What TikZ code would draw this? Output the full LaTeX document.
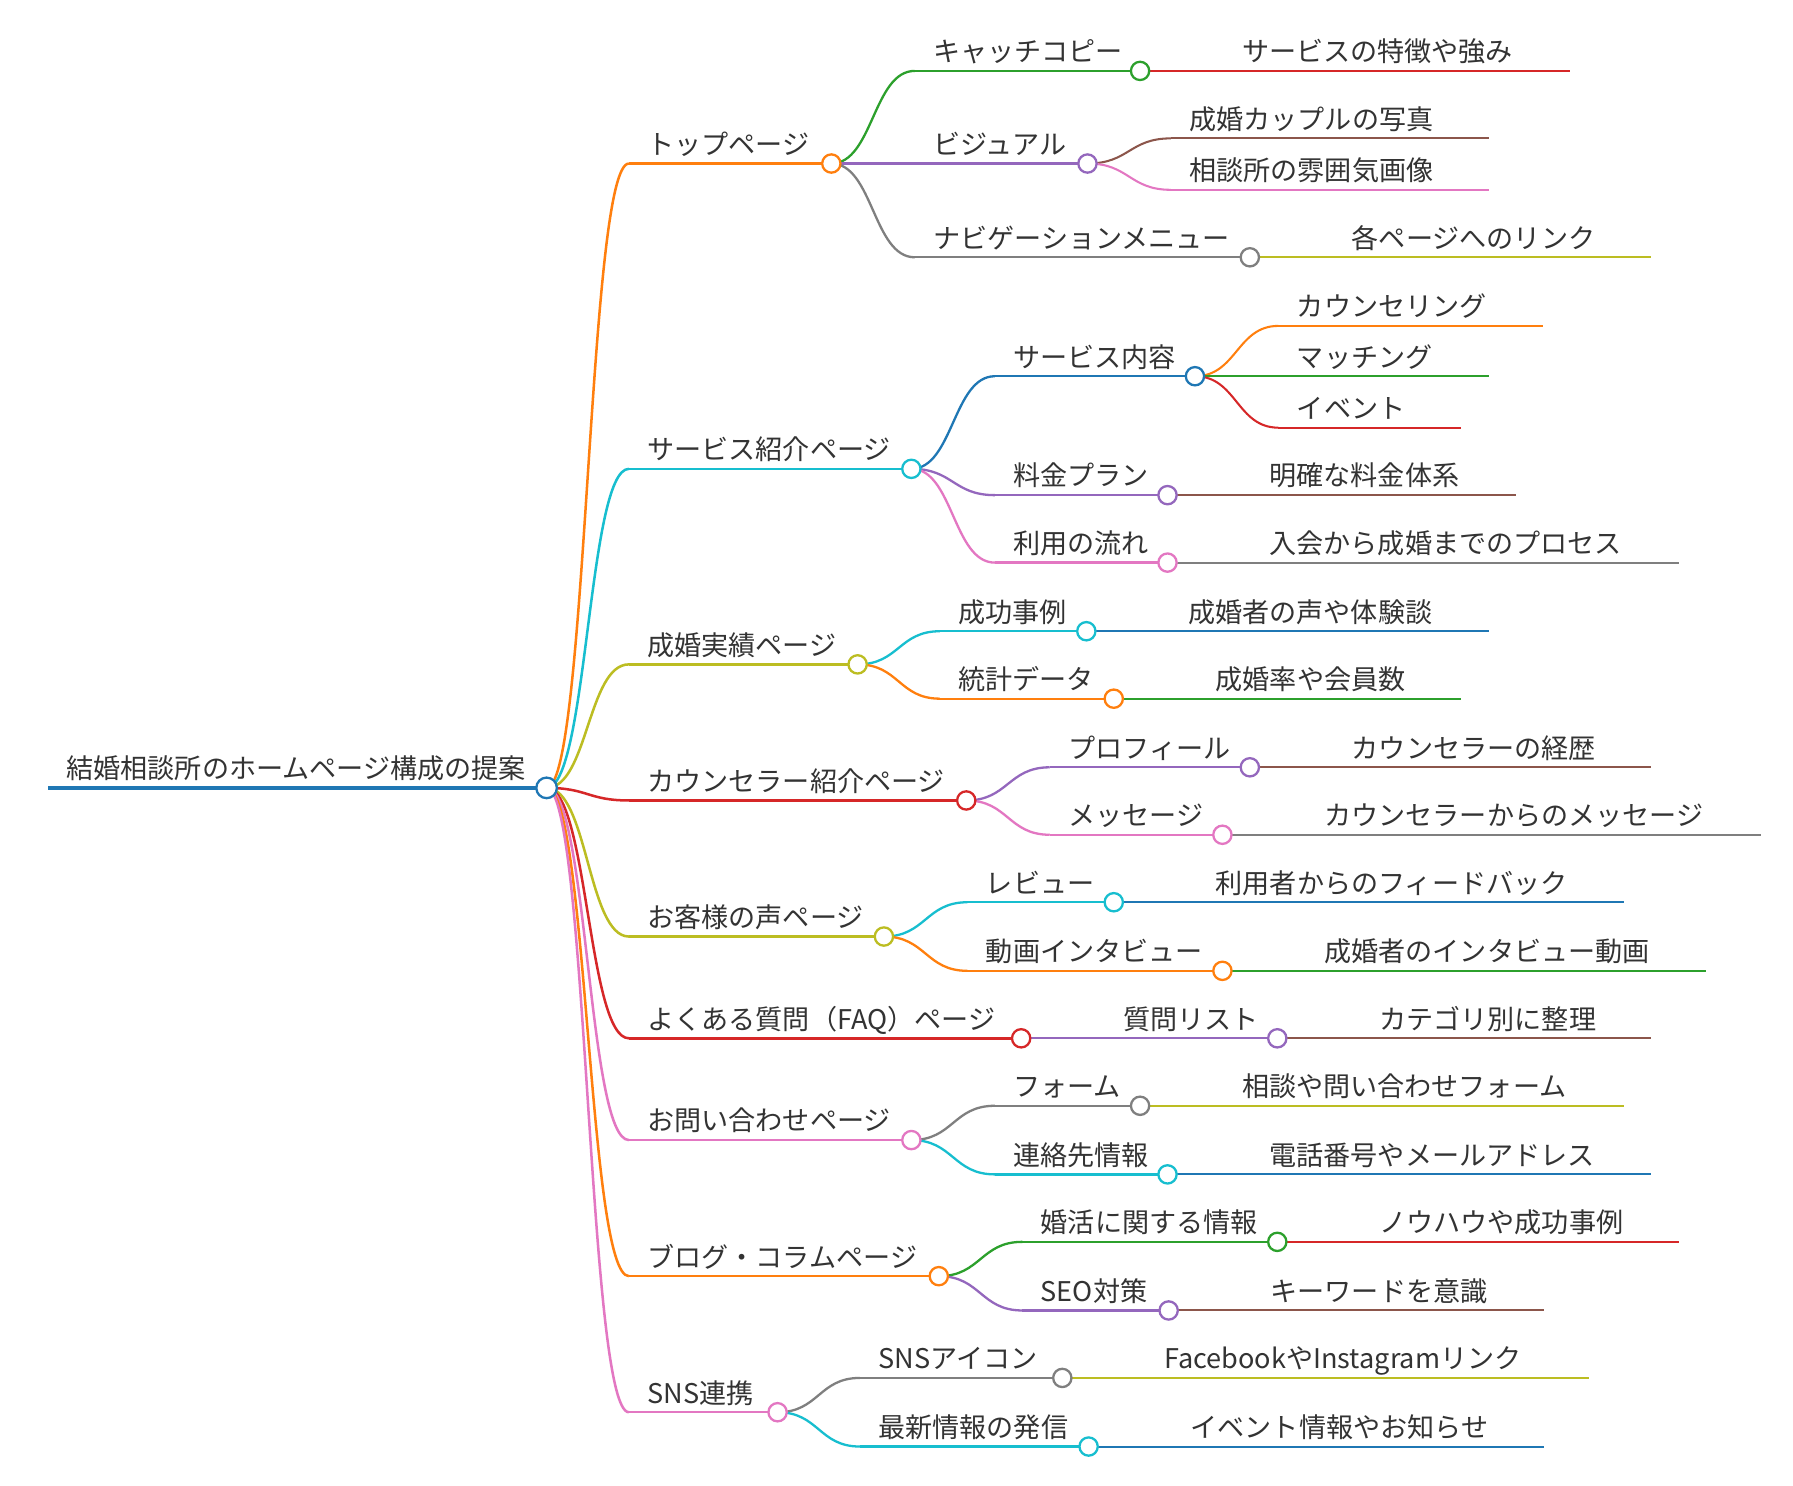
\documentclass[tikz,border=0pt]{standalone}
\usepackage{fontspec}
\setmainfont{Noto Sans CJK JP}
\usetikzlibrary{calc}
\definecolor{cblue}{HTML}{1F77B4}
\definecolor{corange}{HTML}{FF7F0E}
\definecolor{cgreen}{HTML}{2CA02C}
\definecolor{cred}{HTML}{D62728}
\definecolor{cpurple}{HTML}{9467BD}
\definecolor{cbrown}{HTML}{8C564B}
\definecolor{cpink}{HTML}{E377C2}
\definecolor{cgray}{HTML}{7F7F7F}
\definecolor{colive}{HTML}{BCBD22}
\definecolor{ccyan}{HTML}{17BECF}
\definecolor{txtgray}{HTML}{333333}
\tikzset{
  lbl/.style={anchor=base west, inner sep=0pt, text=txtgray, font=\fontsize{23.7}{28}\selectfont},
  dot/.style={circle, fill=white, line width=2pt, inner sep=0pt, minimum size=16pt},
}
% node: name, xs, xe, y, color, width, text
\newcommand{\mmn}[7]{%
  \coordinate (#1-s) at (#2,#4);
  \coordinate (#1-e) at (#3,#4);
  \draw[#5, line width=#6pt] (#1-s) -- (#1-e);
  \node[lbl] (#1-t) at ($(#1-s)+(16,-8)$) {#7};
}
% link: parent, child, color, width
\newcommand{\mml}[4]{%
  \path ($(#1-e)!0.5!(#2-s)$) coordinate (#2-m);
  \draw[#3, line width=#4pt] (#1-e) .. controls (#2-m |- #1-e) and (#2-m |- #2-s) .. (#2-s);
}
% circle: name, color
\newcommand{\mmc}[2]{\node[dot, draw=#2] (#1-c) at (#1-e) {};}
\begin{document}
\begin{tikzpicture}[x=1pt, y=-1pt]
\fill[white] (0,0) rectangle (1568,1299);
\useasboundingbox (0,0) rectangle (1568,1299);
% root
\mmn{root}{42}{478}{689}{cblue}{3.2}{結婚相談所のホームページ構成の提案}
% level 1
\mmn{top}{550}{727}{143}{corange}{2.2}{トップページ}
\mmn{svc}{550}{797}{410}{ccyan}{2.2}{サービス紹介ページ}
\mmn{jis}{550}{750}{581}{colive}{2.2}{成婚実績ページ}
\mmn{cns}{550}{845}{700}{cred}{2.2}{カウンセラー紹介ページ}
\mmn{voc}{550}{773}{819}{colive}{2.2}{お客様の声ページ}
\mmn{faq}{550}{893}{908}{cred}{2.2}{よくある質問（FAQ）ページ}
\mmn{inq}{550}{797}{997}{cpink}{2.2}{お問い合わせページ}
\mmn{blg}{550}{821}{1116}{corange}{2.2}{ブログ・コラムページ}
\mmn{sns}{550}{680}{1235}{cpink}{2.2}{SNS連携}
\foreach \c/\k in {top/corange,svc/ccyan,jis/colive,cns/cred,voc/colive,faq/cred,inq/cpink,blg/corange,sns/cpink}{\mml{root}{\c}{\k}{2.2}}
% level 2
\mmn{catch}{800}{997}{62}{cgreen}{2}{キャッチコピー}
\mmn{vis}{800}{951}{143}{cpurple}{2}{ビジュアル}
\mmn{nav}{800}{1093}{225}{cgray}{2}{ナビゲーションメニュー}
\mml{top}{catch}{cgreen}{2}\mml{top}{vis}{cpurple}{2}\mml{top}{nav}{cgray}{2}
\mmn{svcc}{870}{1045}{329}{cblue}{2}{サービス内容}
\mmn{price}{870}{1021}{433}{cpurple}{2}{料金プラン}
\mmn{flow}{870}{1021}{492}{cpink}{2}{利用の流れ}
\mml{svc}{svcc}{cblue}{2}\mml{svc}{price}{cpurple}{2}\mml{svc}{flow}{cpink}{2}
\mmn{case}{822}{950}{552}{ccyan}{2}{成功事例}
\mmn{stat}{822}{974}{611}{corange}{2}{統計データ}
\mml{jis}{case}{ccyan}{2}\mml{jis}{stat}{corange}{2}
\mmn{prof}{918}{1093}{671}{cpurple}{2}{プロフィール}
\mmn{msg}{918}{1069}{730}{cpink}{2}{メッセージ}
\mml{cns}{prof}{cpurple}{2}\mml{cns}{msg}{cpink}{2}
\mmn{rev}{846}{974}{789}{ccyan}{2}{レビュー}
\mmn{vid}{846}{1069}{849}{corange}{2}{動画インタビュー}
\mml{voc}{rev}{ccyan}{2}\mml{voc}{vid}{corange}{2}
\mmn{qlist}{966}{1117}{908}{cpurple}{2}{質問リスト}
\mml{faq}{qlist}{cpurple}{2}
\mmn{form}{870}{997}{967}{cgray}{2}{フォーム}
\mmn{cont}{870}{1021}{1027}{ccyan}{2}{連絡先情報}
\mml{inq}{form}{cgray}{2}\mml{inq}{cont}{ccyan}{2}
\mmn{konk}{894}{1117}{1086}{cgreen}{2}{婚活に関する情報}
\mmn{seo}{894}{1022}{1146}{cpurple}{2}{SEO対策}
\mml{blg}{konk}{cgreen}{2}\mml{blg}{seo}{cpurple}{2}
\mmn{icon}{752}{929}{1205}{cgray}{2}{SNSアイコン}
\mmn{news}{752}{952}{1265}{ccyan}{2}{最新情報の発信}
\mml{sns}{icon}{cgray}{2}\mml{sns}{news}{ccyan}{2}
% level 3 (leaves)
\mmn{strong}{1070}{1373}{62}{cred}{1.8}{サービスの特徴や強み}
\mml{catch}{strong}{cred}{1.8}
\mmn{photo}{1024}{1302}{121}{cbrown}{1.8}{成婚カップルの写真}
\mmn{atmos}{1024}{1302}{166}{cpink}{1.8}{相談所の雰囲気画像}
\mml{vis}{photo}{cbrown}{1.8}\mml{vis}{atmos}{cpink}{1.8}
\mmn{links}{1166}{1444}{225}{colive}{1.8}{各ページへのリンク}
\mml{nav}{links}{colive}{1.8}
\mmn{couns}{1118}{1349}{285}{corange}{1.8}{カウンセリング}
\mmn{match}{1118}{1302}{329}{cgreen}{1.8}{マッチング}
\mmn{event}{1118}{1278}{374}{cred}{1.8}{イベント}
\mml{svcc}{couns}{corange}{1.8}\mml{svcc}{match}{cgreen}{1.8}\mml{svcc}{event}{cred}{1.8}
\mmn{clear}{1094}{1326}{433}{cbrown}{1.8}{明確な料金体系}
\mml{price}{clear}{cbrown}{1.8}
\mmn{proc}{1094}{1468}{492}{cgray}{1.8}{入会から成婚までのプロセス}
\mml{flow}{proc}{cgray}{1.8}
\mmn{voice}{1023}{1302}{552}{cblue}{1.8}{成婚者の声や体験談}
\mml{case}{voice}{cblue}{1.8}
\mmn{rate}{1047}{1278}{611}{cgreen}{1.8}{成婚率や会員数}
\mml{stat}{rate}{cgreen}{1.8}
\mmn{hist}{1166}{1444}{671}{cbrown}{1.8}{カウンセラーの経歴}
\mml{prof}{hist}{cbrown}{1.8}
\mmn{cmsg}{1142}{1540}{730}{cgray}{1.8}{カウンセラーからのメッセージ}
\mml{msg}{cmsg}{cgray}{1.8}
\mmn{fb}{1047}{1420}{789}{cblue}{1.8}{利用者からのフィードバック}
\mml{rev}{fb}{cblue}{1.8}
\mmn{ivid}{1142}{1492}{849}{cgreen}{1.8}{成婚者のインタビュー動画}
\mml{vid}{ivid}{cgreen}{1.8}
\mmn{cat}{1190}{1444}{908}{cbrown}{1.8}{カテゴリ別に整理}
\mml{qlist}{cat}{cbrown}{1.8}
\mmn{fform}{1070}{1420}{967}{colive}{1.8}{相談や問い合わせフォーム}
\mml{form}{fform}{colive}{1.8}
\mmn{tel}{1094}{1444}{1027}{cblue}{1.8}{電話番号やメールアドレス}
\mml{cont}{tel}{cblue}{1.8}
\mmn{know}{1190}{1468}{1086}{cred}{1.8}{ノウハウや成功事例}
\mml{konk}{know}{cred}{1.8}
\mmn{kw}{1095}{1350}{1146}{cbrown}{1.8}{キーワードを意識}
\mml{seo}{kw}{cbrown}{1.8}
\mmn{fbig}{1002}{1390}{1205}{colive}{1.8}{FacebookやInstagramリンク}
\mml{icon}{fbig}{colive}{1.8}
\mmn{ev}{1025}{1350}{1265}{cblue}{1.8}{イベント情報やお知らせ}
\mml{news}{ev}{cblue}{1.8}
% circles
\node[dot, draw=cblue, minimum size=18pt] (root-c) at (root-e) {};
\mmc{top}{corange}\mmc{svc}{ccyan}\mmc{jis}{colive}\mmc{cns}{cred}\mmc{voc}{colive}
\mmc{faq}{cred}\mmc{inq}{cpink}\mmc{blg}{corange}\mmc{sns}{cpink}
\mmc{catch}{cgreen}\mmc{vis}{cpurple}\mmc{nav}{cgray}
\mmc{svcc}{cblue}\mmc{price}{cpurple}\mmc{flow}{cpink}
\mmc{case}{ccyan}\mmc{stat}{corange}\mmc{prof}{cpurple}\mmc{msg}{cpink}
\mmc{rev}{ccyan}\mmc{vid}{corange}\mmc{qlist}{cpurple}
\mmc{form}{cgray}\mmc{cont}{ccyan}\mmc{konk}{cgreen}\mmc{seo}{cpurple}
\mmc{icon}{cgray}\mmc{news}{ccyan}
\end{tikzpicture}
\end{document}
